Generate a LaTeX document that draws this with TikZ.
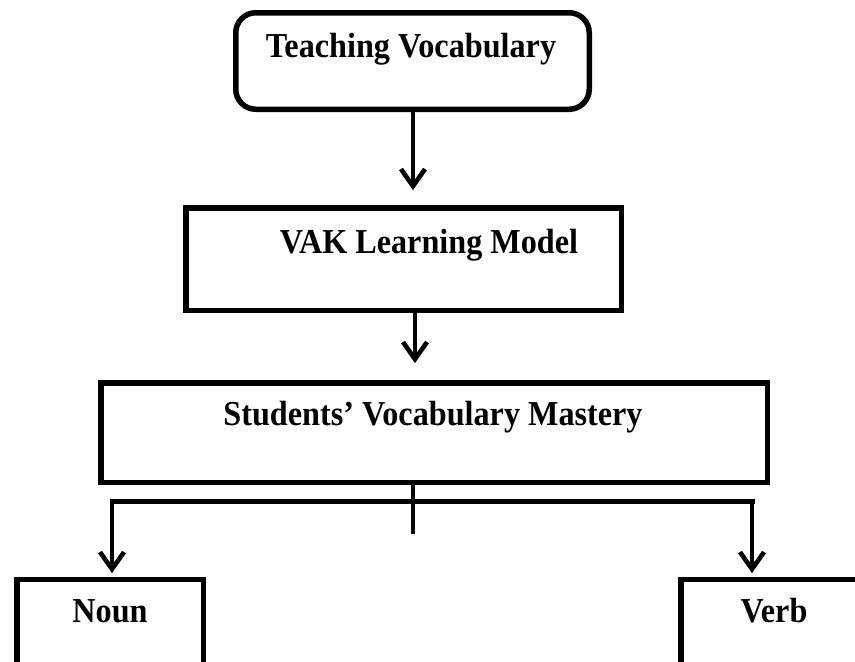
\documentclass[tikz,border=0pt]{standalone}
\usepackage{fontspec}
\setmainfont{Liberation Serif}
\usetikzlibrary{arrows.meta}
\newcommand{\narrowtxt}[1]{\scalebox{0.92}[1]{#1}}
\begin{document}
\begin{tikzpicture}[x=1pt,y=-1pt,
  box/.style={draw=black, line width=5.5pt, fill=white, inner sep=0pt},
  lbl/.style={font=\fontsize{35}{40}\selectfont\bfseries, anchor=base, inner sep=0pt},
  conn/.style={line width=4.5pt, draw=black},
  tip/.style={-{Straight Barb[length=17pt,width=24pt]}},
  shade/.style={line width=4.5pt, draw=black!35, shift={(1.5,2.5)}},
]
\useasboundingbox (0,0) rectangle (855,662);

% boxes
\node[box, rounded corners=20pt, minimum width=353.5pt, minimum height=96.5pt] (tv) at (412.5,61) {};
\node[box, minimum width=435.5pt, minimum height=102.5pt] (vak) at (403.5,259) {};
\node[box, minimum width=666.5pt, minimum height=99.5pt] (svm) at (434,432.5) {};
\node[box, minimum width=186.5pt, minimum height=140pt] (noun) at (110,649.5) {};
\node[box, minimum width=186.5pt, minimum height=140pt] (verb) at (774,649.5) {};

% texts
\node[lbl] (tvt) at (411,57) {\narrowtxt{Teaching Vocabulary}};
\node[lbl] (vakt) at (429,253) {\narrowtxt{VAK Learning Model}};
\node[lbl] (svmt) at (433,425) {\narrowtxt{Students’ Vocabulary Mastery}};
\node[lbl] (nount) at (110,622) {\narrowtxt{Noun}};
\node[lbl] (verbt) at (774,622) {\narrowtxt{Verb}};

% coordinates
\coordinate (a1) at (413,190);
\coordinate (a2) at (415,363);
\coordinate (st) at (413,534);
\coordinate (bl) at (112,501);
\coordinate (br) at (752,501);
\coordinate (nl) at (112,573);
\coordinate (vr) at (752,573);

% shadows
\draw[shade, tip] (tv.south -| a1) -- (a1);
\draw[shade, tip] (vak.south -| a2) -- (a2);
\draw[shade] (bl) -- (br);
\draw[shade] (svm.south -| st) -- (st);
\draw[shade, tip] (bl) -- (nl);
\draw[shade, tip] (br) -- (vr);

% connectors
\draw[conn, tip] (tv.south -| a1) -- (a1);
\draw[conn, tip] (vak.south -| a2) -- (a2);
\draw[conn, line width=5pt, line cap=rect] (bl) -- (br);
\draw[conn] (svm.south -| st) -- (st);
\draw[conn, tip] (bl) -- (nl);
\draw[conn, tip] (br) -- (vr);
\end{tikzpicture}
\end{document}
